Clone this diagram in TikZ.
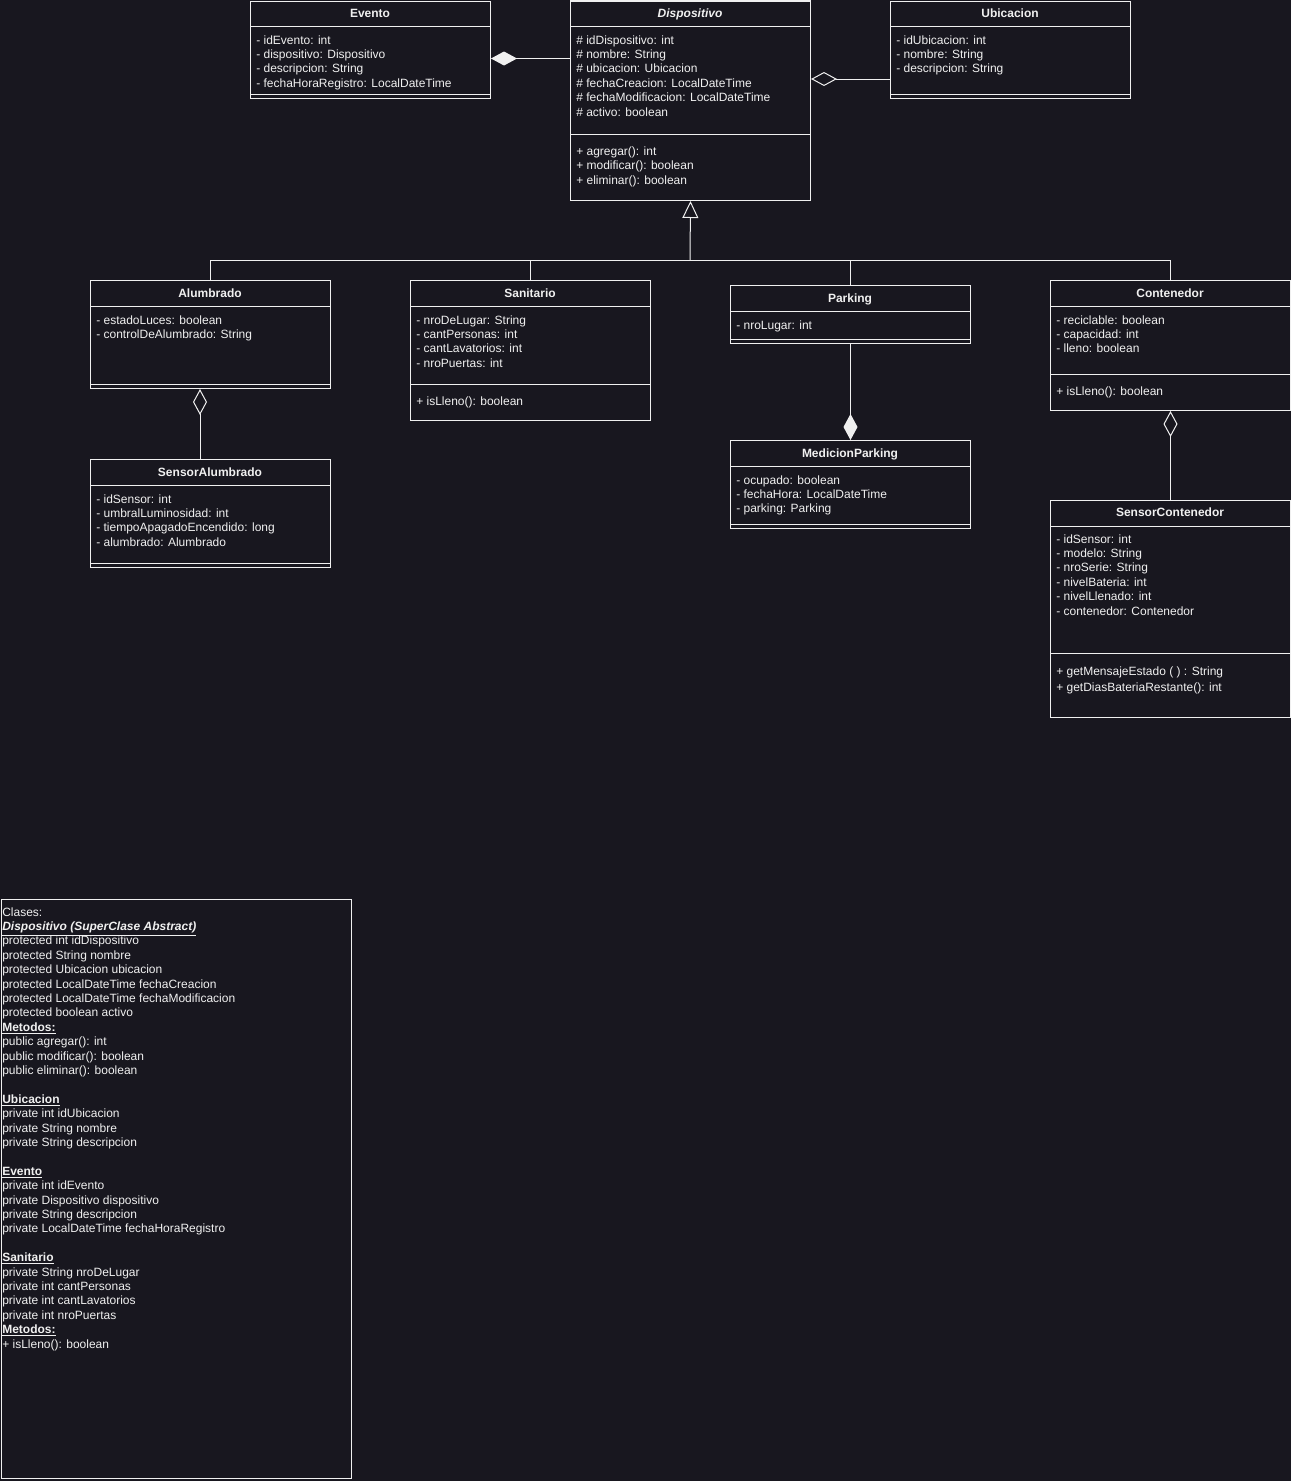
\documentclass[tikz,border=0pt]{standalone}
\usepackage{fontspec}
\setmainfont{Liberation Sans}
\usetikzlibrary{arrows.meta,calc}
\definecolor{bgc}{HTML}{18171F}
\definecolor{fg}{HTML}{F0F0F0}
\tikzset{
  umlline/.style={draw=fg, line width=0.75pt},
  classbox/.style={draw=fg, line width=0.75pt, fill=bgc, anchor=north west, inner sep=0pt, rectangle},
  txt/.style={text=fg, anchor=base west, inner sep=0pt, font=\fontsize{9}{10.8}\selectfont},
  hdr/.style={text=fg, anchor=base, inner sep=0pt, font=\fontsize{9}{10.8}\selectfont\bfseries},
  comp/.style={umlline, -{Diamond[length=19.5pt, width=10.5pt, line width=0.75pt, fill=fg]}},
  aggr/.style={umlline, -{Diamond[open, length=19.5pt, width=10.5pt, line width=0.75pt]}},
  inh/.style={umlline, -{Triangle[open, length=12.75pt, width=12pt, line width=0.75pt]}},
}
\newcommand\umlbox[5]{\node[classbox, minimum width=#4*0.75pt, minimum height=#5*0.75pt] (#1) at (#2,#3) {};}
\newcommand\sepline[2]{\draw[umlline] ($(#1.north west)+(0,#2)$) -- ($(#1.north east)+(0,#2)$);}
\newcommand\umllines[5]{\foreach \lineitem [count=\i] in {#5} {\node[txt] (#1-\i) at (#2,{#3+(\i-1)*#4}) {\lineitem};}}
\begin{document}
\begin{tikzpicture}[x=0.75pt, y=-0.75pt]
\fill[bgc] (0,0) rectangle (1291,1481);
\useasboundingbox (0,0) rectangle (1291,1481);

% Evento
\umlbox{evento}{250}{0.5}{240}{97.5}
\node[hdr] (evento-h) at (370,17.5) {Evento};
\sepline{evento}{25.5}
\umllines{evento-a}{256}{44}{14.4}{- idEvento: int, - dispositivo: Dispositivo, - descripcion: String, - fechaHoraRegistro: LocalDateTime}
\sepline{evento}{93.5}

% Dispositivo
\umlbox{disp}{570}{0.5}{240}{199.5}
\node[hdr] (disp-h) at (690,17.5) {\textit{Dispositivo}};
\sepline{disp}{25.5}
\umllines{disp-a}{576}{44}{14.4}{\# idDispositivo: int, \# nombre: String, \# ubicacion: Ubicacion, \# fechaCreacion: LocalDateTime, \# fechaModificacion: LocalDateTime, \# activo: boolean}
\sepline{disp}{133.5}
\umllines{disp-m}{576}{155.5}{14.4}{+ agregar(): int, + modificar(): boolean, + eliminar(): boolean}

% Ubicacion
\umlbox{ubic}{890}{0.5}{240}{97.5}
\node[hdr] (ubic-h) at (1010,17.5) {Ubicacion};
\sepline{ubic}{25.5}
\umllines{ubic-a}{896}{44}{14.4}{- idUbicacion: int, - nombre: String, - descripcion: String}
\sepline{ubic}{93.5}

% Alumbrado
\umlbox{alum}{90}{280}{240}{108}
\node[hdr] (alum-h) at (210,297.5) {Alumbrado};
\sepline{alum}{26}
\umllines{alum-a}{96}{324}{14.4}{- estadoLuces: boolean, - controlDeAlumbrado: String}
\sepline{alum}{104}

% Sanitario
\umlbox{sani}{410}{280}{240}{140}
\node[hdr] (sani-h) at (530,297.5) {Sanitario};
\sepline{sani}{26}
\umllines{sani-a}{416}{324}{14.4}{- nroDeLugar: String, - cantPersonas: int, - cantLavatorios: int, - nroPuertas: int}
\sepline{sani}{104}
\umllines{sani-m}{416}{405.5}{14.4}{+ isLleno(): boolean}

% Parking
\umlbox{park}{730}{285}{240}{58}
\node[hdr] (park-h) at (850,302.5) {Parking};
\sepline{park}{26}
\umllines{park-a}{736}{329}{14.4}{- nroLugar: int}
\sepline{park}{54}

% Contenedor
\umlbox{cont}{1050}{280}{240}{130}
\node[hdr] (cont-h) at (1170,297.5) {Contenedor};
\sepline{cont}{26}
\umllines{cont-a}{1056}{324}{14.4}{- reciclable: boolean, - capacidad: int, - lleno: boolean}
\sepline{cont}{94}
\umllines{cont-m}{1056}{395.5}{14.4}{+ isLleno(): boolean}

% SensorAlumbrado
\umlbox{salum}{90}{459}{240}{108}
\node[hdr] (salum-h) at (210,476.5) {SensorAlumbrado};
\sepline{salum}{26}
\umllines{salum-a}{96}{503}{14.4}{- idSensor: int, - umbralLuminosidad: int, - tiempoApagadoEncendido: long, - alumbrado: Alumbrado}
\sepline{salum}{104}

% MedicionParking
\umlbox{med}{730}{440}{240}{88}
\node[hdr] (med-h) at (850,457.5) {MedicionParking};
\sepline{med}{26}
\umllines{med-a}{736}{484}{14.4}{- ocupado: boolean, - fechaHora: LocalDateTime, - parking: Parking}
\sepline{med}{84}

% SensorContenedor
\umlbox{scont}{1050}{500}{240}{217}
\node[hdr] (scont-h) at (1170,516.5) {SensorContenedor};
\sepline{scont}{26}
\umllines{scont-a}{1056}{543}{14.4}{- idSensor: int, - modelo: String, - nroSerie: String, - nivelBateria: int, - nivelLlenado: int, - contenedor: Contenedor}
\sepline{scont}{153}
\umllines{scont-m}{1056}{675}{16}{+ getMensajeEstado ( ) : String, + getDiasBateriaRestante(): int}

% Notes
\umlbox{notes}{0.5}{899}{350}{579}
\umllines{notes-t}{2}{916}{14.4}{Clases:, {\underline{\textbf{\textit{Dispositivo (SuperClase Abstract)}}}}, protected int idDispositivo, protected String nombre, protected Ubicacion ubicacion, protected LocalDateTime fechaCreacion, protected LocalDateTime fechaModificacion, protected boolean activo, {\underline{\textbf{Metodos:}}}, public agregar(): int, public modificar(): boolean, public eliminar(): boolean, {}, {\underline{\textbf{Ubicacion}}}, private int idUbicacion, private String nombre, private String descripcion, {}, {\underline{\textbf{Evento}}}, private int idEvento, private Dispositivo dispositivo, private String descripcion, private LocalDateTime fechaHoraRegistro, {}, {\underline{\textbf{Sanitario}}}, private String nroDeLugar, private int cantPersonas, private int cantLavatorios, private int nroPuertas, {\underline{\textbf{Metodos:}}}, + isLleno(): boolean}

% Connectors
\draw[comp] ($(disp.north west)+(0,58)$) -- ($(evento.north east)+(0,58)$);
\draw[aggr] ($(ubic.north west)+(0,78.5)$) -- ($(disp.north east)+(0,78.5)$);
\coordinate (junc) at (690,260);
\draw[umlline] (alum.north) |- (junc);
\draw[umlline] (sani.north) |- (junc);
\draw[umlline] (park.north) |- (junc);
\draw[umlline] (cont.north) |- (junc);
\draw[inh] (junc) -- (disp.south);
\draw[aggr] ($(salum.north west)+(110,0)$) -- ($(alum.south west)+(110,0)$);
\draw[comp] (park.south) -- (med.north);
\draw[aggr] (scont.north) -- (cont.south);
\end{tikzpicture}
\end{document}
